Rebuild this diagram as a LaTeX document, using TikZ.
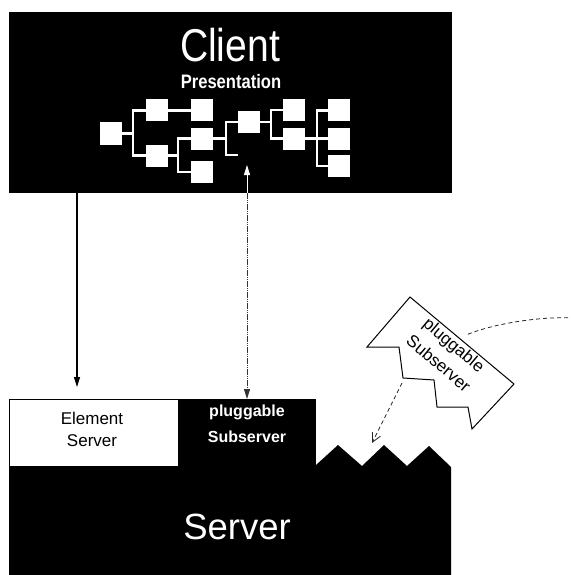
\documentclass[tikz,border=0pt]{standalone}
\usepackage{fontspec}
\setmainfont{Liberation Sans}
\newfontfamily\narrowfont[FakeStretch=0.85]{Liberation Sans}
\usetikzlibrary{arrows.meta}
\begin{document}
\begin{tikzpicture}[x=1pt,y=-1pt,
  every node/.style={inner sep=0pt,outer sep=0pt},
  leaf/.style={fill=white,minimum width=22pt,minimum height=22pt},
  wire/.style={white,line width=2.4pt},
  label/.style={font=\fontsize{17}{20}\selectfont},
  boldlabel/.style={font=\bfseries\fontsize{16}{20}\selectfont},
  head/.style={-{Triangle[length=10pt,width=6pt]}}]
\useasboundingbox (0,0) rectangle (570,575);

% client panel
\node[fill=black,minimum width=443pt,minimum height=181pt,anchor=north west] (client) at (9,12) {};
\node[white,anchor=base,font=\narrowfont\fontsize{46}{50}\selectfont] (ctitle) at (230,62) {Client};
\node[white,anchor=base,font=\narrowfont\bfseries\fontsize{19.5}{22}\selectfont] (pres) at (231,89) {Presentation};

% presentation tree
\node[leaf] (A)  at (110.5,133.5) {};
\node[leaf] (B1) at (156.5,110.5) {};
\node[leaf] (B2) at (156.5,155.5) {};
\node[leaf] (C1) at (202,110.5) {};
\node[leaf] (C2) at (202,138.5) {};
\node[leaf] (C3) at (202,172) {};
\node[leaf] (D)  at (248.5,122) {};
\node[leaf] (E1) at (293.5,110) {};
\node[leaf] (E2) at (293.5,138.5) {};
\node[leaf] (F1) at (339,110.5) {};
\node[leaf] (F2) at (339,138.5) {};
\node[leaf] (F3) at (339,166) {};

% x positions of the branch bars
\coordinate (ja) at (133,0);
\coordinate (jb) at (178,0);
\coordinate (jc) at (226,0);
\coordinate (jd) at (271,0);
\coordinate (je) at (317,0);
\coordinate (stub) at (238,155);

\draw[wire] (A.east) -- (A.east -| ja);
\draw[wire] (B1.west) -- (B1.west -| ja) -- (B2.west -| ja) -- (B2.west);
\draw[wire] (B1.east) -- (C1.west);
\draw[wire] (B2.east) -- (B2.east -| jb);
\draw[wire] (C2.west) -- (C2.west -| jb) -- (C3.west -| jb) -- (C3.west);
\draw[wire] (C2.east) -- (C2.east -| jc);
\draw[wire] (D.west) -- (D.west -| jc) -- (stub -| jc) -- (stub);
\draw[wire] (D.east) -- (D.east -| jd);
\draw[wire] (E1.west) -- (E1.west -| jd) -- (E2.west -| jd) -- (E2.west);
\draw[wire] (E2.east) -- (E2.east -| je);
\draw[wire] (F1.west) -- (F1.west -| je) -- (F3.west -| je) -- (F3.west);
\draw[wire] (F2.west) -- (F2.west -| je);

% server side
\node[draw=black,line width=1pt,fill=white,minimum width=169pt,minimum height=68pt,anchor=north west] (elem) at (9,399) {};
\node[fill=black,minimum width=138pt,minimum height=68pt,anchor=north west] (plug) at (178,399) {};
\fill[black] (9,466) -- (316,466) -- (316,465) -- (338,445) -- (362,466) -- (384,445)
  -- (407,466) -- (429,446) -- (451,467) -- (451,575) -- (9,575) -- cycle;

\node[label,anchor=base] (el1) at (92,424) {Element};
\node[label,anchor=base] (el2) at (92,446) {Server};
\node[boldlabel,white,anchor=base] (pl1) at (247,416) {pluggable};
\node[boldlabel,white,anchor=base] (pl2) at (247,442) {Subserver};
\node[white,anchor=base,font=\fontsize{36.5}{40}\selectfont] (stitle) at (237,539) {Server};

% connectors between client and server
\coordinate (ltip) at (77,387);
\coordinate (mtip) at (247,165);
\draw[black,line width=1.2pt,head] (client.south -| ltip) -- (ltip);
\draw[white,line width=1pt,head] (client.south -| mtip) -- (mtip);
\draw[black!80,line width=1pt,dash pattern=on 1.6pt off 0.6pt,head] (client.south -| mtip) -- (plug.north);

% detached pluggable subserver
\draw[black,line width=1pt,fill=white,line join=miter]
  (410,297) -- (514,384) -- (472,429) -- (468,407) -- (437,407) -- (434,380)
  -- (403,378) -- (399,347) -- (367,347) -- cycle;
\node[rotate=-40,align=center,font=\fontsize{17}{24}\selectfont] (spare) at (446.5,354) {pluggable\\Subserver};

\coordinate (cstart) at (575,318);
\coordinate (cend) at (466,335);
\draw[black!85,line width=0.8pt,dash pattern=on 4pt off 3pt]
  (cstart) .. controls (540,316) and (492,324) .. (cend);
\coordinate (dstart) at (402,383);
\coordinate (dtip) at (372,443);
\draw[black!85,line width=0.8pt,dash pattern=on 4pt off 3pt,-{Straight Barb[length=9pt,width=9pt]}]
  (dstart) -- (dtip);
\end{tikzpicture}
\end{document}
